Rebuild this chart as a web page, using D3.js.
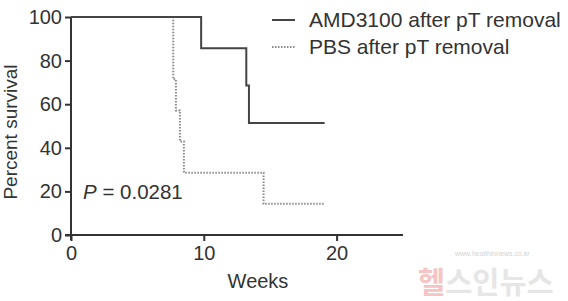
<!DOCTYPE html>
<html>
<head>
<meta charset="utf-8">
<script src="https://cdn.jsdelivr.net/npm/d3@7"></script>
<style>
  body { margin: 0; background: #fff; }
  svg { display: block; font-family: "Liberation Sans", Arial, sans-serif; }
</style>
</head>
<body>
<svg id="chart" width="568" height="301"></svg>
<script>
// survival curves
var amdWeeks = [0, 9.8, 13.2, 13.4, 19.1]
var amdSurv = [100, 85.7, 68.6, 51.4, 51.4]
var pbsWeeks = [0, 7.7, 7.9, 8.2, 8.5, 14.5, 19.1]
var pbsSurv = [100, 71.4, 57.1, 42.9, 28.6, 14.3, 14.3]

var xTicks = [0, 10, 20]
var yTicks = [0, 20, 40, 60, 80, 100]
var seriesNames = ["AMD3100 after pT removal", "PBS after pT removal"]
var pLabel = "0.0281"

var svg = d3.select("#chart")
var axisColor = "#333"
var textColor = "#333"

var x = d3.scaleLinear().domain([0, 25]).range([71, 403])
var y = d3.scaleLinear().domain([0, 100]).range([235, 17])

var line = d3.line()
  .x(function (d) { return x(d[0]) })
  .y(function (d) { return y(d[1]) })
  .curve(d3.curveStepAfter)

// watermark
svg.append("text")
  .attr("x", 418).attr("y", 293)
  .attr("font-family", "Noto Sans CJK KR")
  .attr("font-size", 29.5)
  .attr("font-weight", "bold")
  .selectAll("tspan")
  .data([["헬", "#f6c4c4"], ["스인뉴스", "#e6e6e6"]])
  .enter().append("tspan")
  .attr("fill", function (d) { return d[1] })
  .text(function (d) { return d[0] })
svg.append("text")
  .attr("x", 455).attr("y", 256)
  .attr("font-size", 7)
  .attr("fill", "#d4d4d4")
  .text("www.healthinnews.co.kr")

// axes
var yAxis = svg.append("g")
  .attr("transform", "translate(" + x(0) + ",0)")
  .call(d3.axisLeft(y).tickValues(yTicks).tickSize(6).tickPadding(3).tickSizeOuter(0))
var xAxis = svg.append("g")
  .attr("transform", "translate(0," + y(0) + ")")
  .call(d3.axisBottom(x).tickValues(xTicks).tickSize(6).tickPadding(5).tickSizeOuter(0))

;[yAxis, xAxis].forEach(function (g) {
  g.select(".domain").attr("stroke", axisColor).attr("stroke-width", 2)
  g.selectAll(".tick line").attr("stroke", axisColor).attr("stroke-width", 2)
  g.selectAll(".tick text")
    .attr("fill", textColor)
    .attr("font-size", 20)
    .attr("font-family", "Liberation Sans, Arial, sans-serif")
})
xAxis.select(".domain").attr("d", "M" + (x(0) - 6) + ",0H" + x(25))
yAxis.select(".domain").attr("d", "M0," + (y(0) + 5) + "V" + y(100))

// curves
var amd = amdWeeks.map(function (w, i) { return [w, amdSurv[i]] })
var pbs = pbsWeeks.map(function (w, i) { return [w, pbsSurv[i]] })

svg.append("path")
  .datum(pbs)
  .attr("d", line)
  .attr("fill", "none")
  .attr("stroke", "#8a8a8a")
  .attr("stroke-width", 2)
  .attr("stroke-dasharray", "1.5,1.5")

svg.append("path")
  .datum(amd)
  .attr("d", line)
  .attr("fill", "none")
  .attr("stroke", "#444")
  .attr("stroke-width", 2)

// legend
var legend = svg.append("g").attr("transform", "translate(272,20)")
legend.selectAll("line")
  .data(seriesNames)
  .enter().append("line")
  .attr("x1", 0).attr("x2", 23)
  .attr("y1", function (d, i) { return i * 27 })
  .attr("y2", function (d, i) { return i * 27 })
  .attr("stroke", function (d, i) { return i ? "#8a8a8a" : "#444" })
  .attr("stroke-width", 2)
  .attr("stroke-dasharray", function (d, i) { return i ? "1.5,1.5" : null })
legend.selectAll("text")
  .data(seriesNames)
  .enter().append("text")
  .attr("x", 37)
  .attr("y", function (d, i) { return i * 27 + 7 })
  .attr("font-size", 21)
  .attr("fill", textColor)
  .text(function (d) { return d })

// labels
svg.append("text")
  .attr("x", 83).attr("y", 199)
  .attr("font-size", 20.5)
  .attr("fill", textColor)
  .call(function (t) {
    t.append("tspan").attr("font-style", "italic").text("P")
    t.append("tspan").text(" = " + pLabel)
  })

svg.append("text")
  .attr("x", 258).attr("y", 288)
  .attr("text-anchor", "middle")
  .attr("font-size", 20)
  .attr("fill", textColor)
  .text("Weeks")

svg.append("text")
  .attr("transform", "translate(17,132) rotate(-90)")
  .attr("text-anchor", "middle")
  .attr("font-size", 19)
  .attr("fill", textColor)
  .text("Percent survival")
</script>
</body>
</html>
